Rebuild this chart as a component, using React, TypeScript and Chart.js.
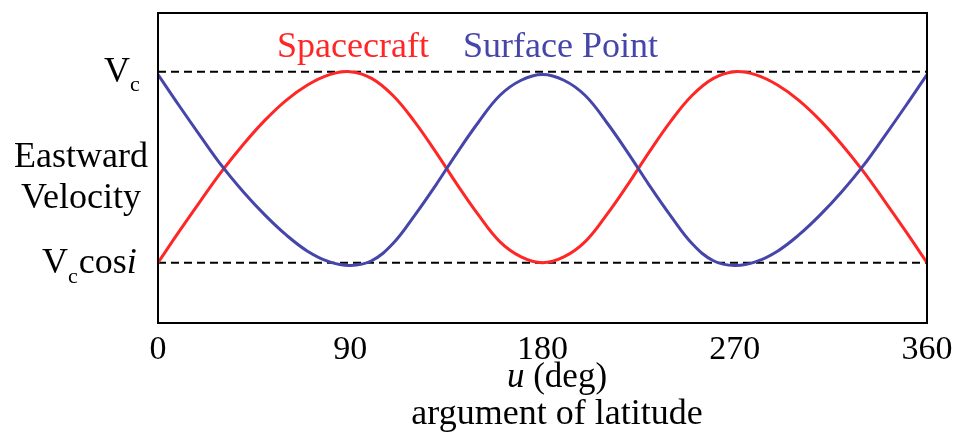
import React, { useEffect, useRef } from "react";
import { Chart, registerables } from "chart.js";

Chart.register(...registerables);

// Argument of latitude samples (deg)
const U_DEG = [
  0, 10, 20, 30, 40, 50, 60, 70, 80, 90,
  100, 110, 120, 130, 140, 150, 160, 170, 180,
  190, 200, 210, 220, 230, 240, 250, 260, 270,
  280, 290, 300, 310, 320, 330, 340, 350, 360,
];

// Eastward velocity, 0 = Vc cos i, 1 = Vc
const SPACECRAFT = [
  0, 0.165, 0.325, 0.48, 0.62, 0.745, 0.85, 0.93, 0.983, 1,
  0.965, 0.875, 0.74, 0.58, 0.41, 0.25, 0.11, 0.03, 0,
  0.03, 0.11, 0.25, 0.41, 0.58, 0.74, 0.875, 0.965, 1,
  0.983, 0.93, 0.85, 0.745, 0.62, 0.48, 0.325, 0.165, 0,
];

const SURFACE_POINT = [
  0.985, 0.82, 0.66, 0.505, 0.37, 0.25, 0.145, 0.06, 0.005, -0.015,
  0.01, 0.1, 0.245, 0.405, 0.575, 0.735, 0.875, 0.955, 0.985,
  0.955, 0.875, 0.735, 0.575, 0.405, 0.245, 0.1, 0.01, -0.015,
  0.005, 0.06, 0.145, 0.25, 0.37, 0.505, 0.66, 0.82, 0.985,
];

const X_TICKS = [0, 90, 180, 270, 360];
const LEVEL_VC = 1;
const LEVEL_VC_COS_I = 0;

const RED = "#ff2626";
const BLUE = "#4545aa";
const FONT = "'Liberation Serif', 'Times New Roman', serif";

const toPoints = (ys: number[]) => U_DEG.map((u, i) => ({ x: u, y: ys[i] }));

const annotations = {
  id: "annotations",
  afterDraw(chart: any) {
    const { ctx, chartArea, scales } = chart;
    const xs = scales.x;
    const ys = scales.y;
    ctx.save();

    // plot frame
    ctx.strokeStyle = "#000";
    ctx.lineWidth = 2;
    ctx.strokeRect(
      chartArea.left,
      chartArea.top,
      chartArea.right - chartArea.left,
      chartArea.bottom - chartArea.top
    );

    // x tick labels
    ctx.fillStyle = "#000";
    ctx.textAlign = "center";
    ctx.textBaseline = "alphabetic";
    ctx.font = `34px ${FONT}`;
    X_TICKS.forEach((t) => {
      ctx.fillText(String(t), xs.getPixelForValue(t), 359);
    });

    // x axis title
    const cx = 557;
    ctx.font = `italic 35px ${FONT}`;
    const uW = ctx.measureText("u").width;
    ctx.font = `35px ${FONT}`;
    const restW = ctx.measureText(" (deg)").width;
    const sx = cx - (uW + restW) / 2;
    ctx.textAlign = "left";
    ctx.font = `italic 35px ${FONT}`;
    ctx.fillText("u", sx, 387);
    ctx.font = `35px ${FONT}`;
    ctx.fillText(" (deg)", sx + uW, 387);
    ctx.textAlign = "center";
    ctx.font = `36px ${FONT}`;
    ctx.fillText("argument of latitude", cx, 424);

    // y axis labels
    ctx.font = `36px ${FONT}`;
    ctx.fillText("Eastward", 81, 167);
    ctx.fillText("Velocity", 81, 208);

    const yTop = ys.getPixelForValue(LEVEL_VC);
    const yBot = ys.getPixelForValue(LEVEL_VC_COS_I);
    ctx.textAlign = "left";

    // V_c
    let x = 104;
    ctx.font = `36px ${FONT}`;
    ctx.fillText("V", x, yTop + 10);
    x += ctx.measureText("V").width;
    ctx.font = `22px ${FONT}`;
    ctx.fillText("c", x, yTop + 19);

    // V_c cos i
    x = 42;
    ctx.font = `36px ${FONT}`;
    ctx.fillText("V", x, yBot + 10);
    x += ctx.measureText("V").width;
    ctx.font = `22px ${FONT}`;
    ctx.fillText("c", x, yBot + 20);
    x += ctx.measureText("c").width + 1;
    ctx.font = `36px ${FONT}`;
    ctx.fillText("cos", x, yBot + 10);
    x += ctx.measureText("cos").width;
    ctx.font = `italic 36px ${FONT}`;
    ctx.fillText("i", x, yBot + 10);

    // series labels
    ctx.font = `36px ${FONT}`;
    ctx.fillStyle = RED;
    ctx.fillText("Spacecraft", 277, 57);
    ctx.fillStyle = BLUE;
    ctx.fillText("Surface Point", 463, 57);

    ctx.restore();
  },
};

export default function App() {
  const canvasRef = useRef<HTMLCanvasElement | null>(null);

  useEffect(() => {
    const canvas = canvasRef.current;
    if (!canvas) return;
    const dashed = (level: number) => ({
      data: [
        { x: 0, y: level },
        { x: 360, y: level },
      ],
      borderColor: "#000",
      borderWidth: 2,
      borderDash: [8, 5],
      pointRadius: 0,
      tension: 0,
      order: 3,
    });
    const chart = new Chart(canvas, {
      type: "line",
      data: {
        datasets: [
          dashed(LEVEL_VC) as any,
          dashed(LEVEL_VC_COS_I) as any,
          {
            label: "Spacecraft",
            data: toPoints(SPACECRAFT),
            borderColor: RED,
            borderWidth: 3,
            pointRadius: 0,
            tension: 0.4,
            order: 2,
          },
          {
            label: "Surface Point",
            data: toPoints(SURFACE_POINT),
            borderColor: BLUE,
            borderWidth: 3,
            pointRadius: 0,
            tension: 0.4,
            order: 1,
          },
        ],
      },
      options: {
        responsive: false,
        animation: false,
        events: [],
        layout: { padding: { left: 158, right: 27, top: 13, bottom: 110 } },
        plugins: { legend: { display: false }, tooltip: { enabled: false } },
        scales: {
          x: { type: "linear", min: 0, max: 360, display: false },
          y: { type: "linear", min: -0.316, max: 1.307, display: false },
        },
      },
      plugins: [annotations],
    });
    return () => chart.destroy();
  }, []);

  return (
    <div style={{ position: "fixed", left: 0, top: 0, width: 954, height: 433, background: "#fff" }}>
      <canvas ref={canvasRef} width={954} height={433} />
    </div>
  );
}
